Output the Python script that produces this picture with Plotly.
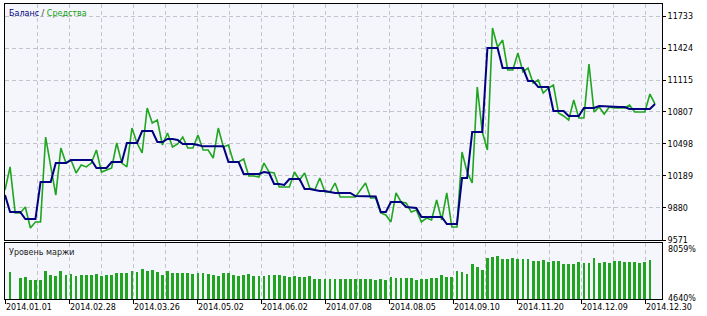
import plotly.graph_objects as go

# ---------------- data ----------------
trade_no = list(range(129))

balance = [
    10005, 9841, 9841, 9841, 9774, 9774, 9774, 10131, 10131, 10131,      # 0-9
    10314, 10314, 10314, 10343, 10343, 10343, 10343, 10343, 10266, 10266,  # 10-19
    10266, 10324, 10324, 10324, 10507, 10507, 10507, 10623, 10623, 10623,  # 20-29
    10517, 10517, 10546, 10546, 10536, 10498, 10498, 10498, 10488, 10475,  # 30-39
    10475, 10475, 10475, 10475, 10324, 10324, 10324, 10208, 10208, 10208,  # 40-49
    10208, 10227, 10218, 10112, 10112, 10102, 10160, 10160, 10160, 10063,  # 50-59
    10063, 10054, 10044, 10044, 10034, 10025, 10025, 10025, 10025, 9995,   # 60-69
    9995, 9995, 9995, 9990, 9841, 9841, 9938, 9938, 9938, 9890,            # 70-79
    9885, 9880, 9793, 9793, 9793, 9793, 9793, 9725, 9725, 9725,            # 80-89
    10169, 10169, 10613, 10613, 10613, 11424, 11424, 11424, 11231, 11231,  # 90-99
    11231, 11231, 11231, 11106, 11106, 11048, 11048, 11048, 10816, 10816,  # 100-109
    10816, 10768, 10768, 10768, 10845, 10845, 10845, 10864, 10860, 10858,  # 110-119
    10855, 10855, 10855, 10835, 10835, 10835, 10835, 10835, 10884,         # 120-128
]

equity = [
    10054, 10276, 9832, 9832, 9890, 9687, 9745, 9745, 10565, None,        # 0-9
    10005, 10459, 10314, 10343, 10218, 10295, 10276, 10314, 10440, 10227,  # 10-19
    10247, 10266, 10507, 10314, 10276, 10652, 10507, 10411, 10845, 10700,  # 20-29
    10729, 10488, 10604, 10469, 10498, 10565, 10459, 10459, 10584, 10440,  # 30-39
    10440, 10362, 10652, 10469, 10488, 10324, 10324, 10353, 10189, 10189,  # 40-49
    10179, 10314, 10227, 10218, 10083, 10083, 10083, 10227, 10150, 10218,  # 50-59
    10073, 10054, 10169, 10034, 10034, 10121, 9986, 9986, 9986, 9986,      # 60-69
    None, 10121, 9976, 9976, 9832, 9812, 9745, 10025, 9938, 9928,          # 70-79
    9841, 9861, 9745, 9783, 9764, 9957, 9764, 10025, 9696, 9696,           # 80-89
    10420, 10227, 10121, 11048, 10613, 10440, 11617, 11434, 11501, 11212,  # 90-99
    11212, 11376, 11193, 11231, 11086, 11115, 10990, 11038, 11067, 10797,  # 100-109
    10768, 10729, 10922, 10749, 10749, 11270, 10806, 10855, 10787, 10855,  # 110-119
    10845, 10845, 10845, 10874, 10806, 10806, 10806, 10980, 10884,         # 120-128
]

margin_trade = list(range(1, 128))
margin_level = [
    6316, None, 5938, 6001, 5856, 5856, 5856, 6379, 6171, 6108,            # 1-10
    6423, 6171, 6215, 6108, 6171, 6171, 6171, 6215, 6108, 6171,            # 11-20
    6171, 6278, 6278, 6278, 6423, 6316, 6530, 6423, 6486, 6316,            # 21-30
    6171, 6379, 6278, 6278, 6278, 6278, 6215, 6278, 6278, 6215,            # 31-40
    6171, 6108, 6278, 6278, 6171, 6108, 6171, 6215, 6108, 6064,            # 41-50
    6064, 6171, 6171, 6171, 6064, 6001, 6064, 6001, 6001, 6064,            # 51-60
    5900, 5900, 5900, 5919, 5875, 5875, 5875, 5875, 5875, 5919,            # 61-70
    5875, 5919, 5812, 5875, 5812, 6001, 5938, 5982, 5938, 5982,            # 71-80
    5856, 5919, 5875, 5982, 5982, 6171, 6001, 6001, 6423, 6316,            # 81-90
    6234, 6864, 6631, 6486, 7223, 7305, 7368, 7160, 7160, 7242,            # 91-100
    7160, 7160, 7160, 7053, 7053, 7116, 6990, 7053, 7053, 6864,            # 101-110
    6864, 6864, 6990, 6927, 6927, 7223, 6927, 6990, 6927, 7053,            # 111-120
    7053, 6990, 6990, 6990, 6927, 6990, 7116,                              # 121-127
]

y_tick_vals = [9571, 9880, 10189, 10498, 10807, 11115, 11424, 11733]
y_tick_text = ["9571", "9880", "10189", "10498", "10807", "11115", "11424", "11733"]
margin_min, margin_max = 4640, 8059
date_labels = ["2014.01.01", "2014.02.28", "2014.03.26", "2014.05.02", "2014.06.02",
               "2014.07.08", "2014.08.05", "2014.09.10", "2014.11.20", "2014.12.09",
               "2014.12.30"]

# ---------------- layout helpers ----------------
W, H = 707, 316
ML, MR, MT, MB = 5, 45, 4, 17
PX_PER_TRADE = 5.078
plot_w = W - ML - MR
x_max = plot_w / PX_PER_TRADE
label_step = 64 / PX_PER_TRADE
date_pos = [k * label_step for k in range(len(date_labels))]
minor_pos = [(k + 0.5) * label_step for k in range(len(date_labels))]

plot_h = H - MT - MB
main_bottom = (H - MB - 240) / plot_h
sub_top = (H - MB - 243) / plot_h

FONT = "DejaVu Sans"
GRID = "#c4c4cc"
DASH = "4px,3px"
BLUE = "#000080"
GREEN = "#1fa51f"

fig = go.Figure()
fig.add_trace(go.Scatter(x=trade_no, y=equity, mode="lines", connectgaps=True,
                         line=dict(color=GREEN, width=1.6), xaxis="x", yaxis="y",
                         name="Средства"))
fig.add_trace(go.Scatter(x=trade_no, y=balance, mode="lines",
                         line=dict(color=BLUE, width=2), xaxis="x", yaxis="y",
                         name="Баланс"))
fig.add_trace(go.Bar(x=margin_trade, y=margin_level, marker=dict(color=GREEN, line=dict(width=0)),
                     width=0.55, xaxis="x2", yaxis="y2", name="Уровень маржи"))

common_x = dict(range=[0, x_max], showline=True, mirror=True, linecolor="black", linewidth=1,
                zeroline=False, tickmode="array", tickvals=date_pos,
                showgrid=True, gridcolor=GRID, griddash=DASH, gridwidth=1,
                minor=dict(tickmode="array", tickvals=minor_pos, showgrid=True,
                           gridcolor=GRID, griddash=DASH, gridwidth=1, ticks=""))

fig.update_layout(
    width=W, height=H, margin=dict(l=ML, r=MR, t=MT, b=MB),
    paper_bgcolor="white", plot_bgcolor="#f4f6fc",
    showlegend=False, bargap=0,
    font=dict(family=FONT, size=8, color="black"),
    xaxis=dict(common_x, anchor="y", domain=[0, 1], showticklabels=False, ticks=""),
    xaxis2=dict(common_x, anchor="y2", matches="x", ticktext=date_labels,
                showticklabels=True, ticks="outside", ticklen=4, tickcolor="black",
                ticklabelposition="outside right",
                tickfont=dict(family=FONT, size=8, color="black")),
    yaxis=dict(domain=[main_bottom, 1], anchor="x", side="right",
               range=[9571, 11849], tickmode="array", tickvals=y_tick_vals,
               ticktext=y_tick_text, ticks="outside", ticklen=3, tickcolor="black",
               showline=True, mirror=True, linecolor="black", linewidth=1,
               showgrid=True, gridcolor=GRID, griddash=DASH, zeroline=False,
               tickfont=dict(family=FONT, size=8, color="black")),
    yaxis2=dict(domain=[0, sub_top], anchor="x2", side="right",
                range=[margin_min, margin_min + 56 * 63.0], showticklabels=False,
                ticks="", showline=True, mirror=True, linecolor="black", linewidth=1,
                showgrid=False, zeroline=False),
)

fig.add_annotation(xref="paper", yref="y domain", x=0, y=1, xanchor="left", yanchor="top",
                   xshift=2, yshift=-3, showarrow=False,
                   text=f"<span style='color:{BLUE}'>Баланс</span> / "
                        f"<span style='color:#14a014'>Средства</span>",
                   font=dict(family=FONT, size=8, color="#333333"))
fig.add_annotation(xref="paper", yref="y2 domain", x=0, y=1, xanchor="left", yanchor="top",
                   xshift=2, yshift=-3, showarrow=False, text="Уровень маржи",
                   font=dict(family=FONT, size=8, color="#222222"))
fig.add_annotation(xref="paper", yref="y2", x=1, y=margin_max, xanchor="left", yanchor="top",
                   xshift=4, yshift=2, showarrow=False, text=f"{margin_max}%",
                   font=dict(family=FONT, size=8, color="black"))
fig.add_annotation(xref="paper", yref="y2", x=1, y=margin_min, xanchor="left", yanchor="middle",
                   xshift=4, yshift=1, showarrow=False, text=f"{margin_min}%",
                   font=dict(family=FONT, size=8, color="black"))

fig.write_html("out.html")
